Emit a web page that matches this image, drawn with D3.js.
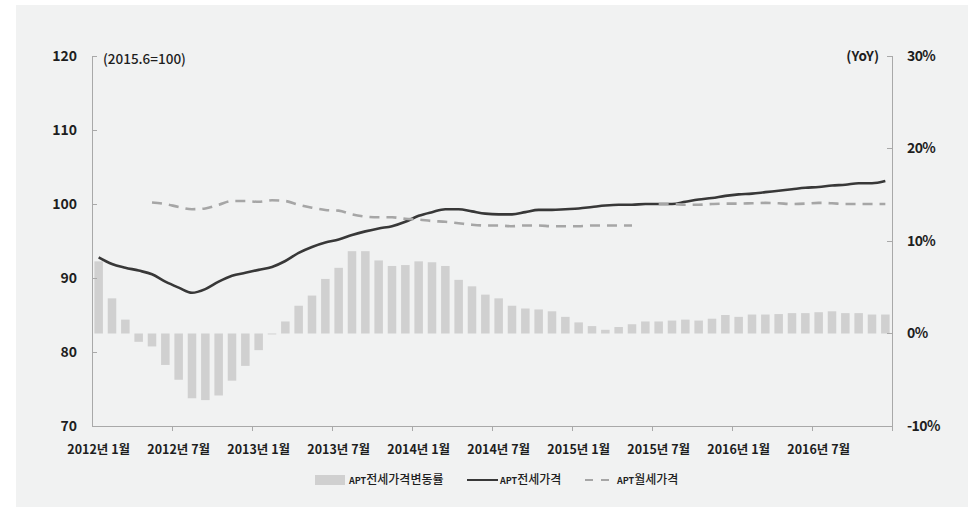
<!DOCTYPE html>
<html>
<head>
<meta charset="utf-8">
<script src="https://cdn.jsdelivr.net/npm/d3@7"></script>
<style>
  html, body { margin: 0; padding: 0; background: #ffffff; }
  svg { display: block; }
  text { font-family: "Noto Sans CJK KR", "Noto Sans", sans-serif; fill: #1e1e1e; }
</style>
</head>
<body>
<svg id="chart" width="968" height="516"></svg>
<script>
// ---------- data ----------
const categories = [
  "2012년 1월","2012년 2월","2012년 3월","2012년 4월","2012년 5월","2012년 6월",
  "2012년 7월","2012년 8월","2012년 9월","2012년 10월","2012년 11월","2012년 12월",
  "2013년 1월","2013년 2월","2013년 3월","2013년 4월","2013년 5월","2013년 6월",
  "2013년 7월","2013년 8월","2013년 9월","2013년 10월","2013년 11월","2013년 12월",
  "2014년 1월","2014년 2월","2014년 3월","2014년 4월","2014년 5월","2014년 6월",
  "2014년 7월","2014년 8월","2014년 9월","2014년 10월","2014년 11월","2014년 12월",
  "2015년 1월","2015년 2월","2015년 3월","2015년 4월","2015년 5월","2015년 6월",
  "2015년 7월","2015년 8월","2015년 9월","2015년 10월","2015년 11월","2015년 12월",
  "2016년 1월","2016년 2월","2016년 3월","2016년 4월","2016년 5월","2016년 6월",
  "2016년 7월","2016년 8월","2016년 9월","2016년 10월","2016년 11월","2016년 12월"
];
// APT전세가격변동률 (YoY, %)
const jeonseChange = [
  7.8, 3.8, 1.5, -0.9, -1.4, -3.4, -5.0, -7.0, -7.2, -6.7, -5.1, -3.5,
  -1.8, -0.1, 1.3, 3.0, 4.1, 5.9, 7.1, 8.9, 8.9, 7.9, 7.3, 7.4,
  7.8, 7.7, 7.3, 5.8, 5.1, 4.2, 3.8, 3.0, 2.7, 2.6, 2.4, 1.8,
  1.2, 0.8, 0.4, 0.7, 1.0, 1.3, 1.3, 1.4, 1.5, 1.4, 1.6, 2.0,
  1.8, 2.05, 2.05, 2.1, 2.2, 2.2, 2.3, 2.4, 2.2, 2.2, 2.05, 2.05
];
// APT전세가격 (2015.6=100)
const jeonseIndex = [
  92.8, 91.9, 91.4, 91.0, 90.5, 89.5, 88.7, 88.0, 88.5, 89.5, 90.3, 90.7,
  91.1, 91.5, 92.3, 93.4, 94.2, 94.8, 95.2, 95.8, 96.3, 96.7, 97.0, 97.6,
  98.4, 98.9, 99.3, 99.3, 99.0, 98.7, 98.6, 98.6, 98.9, 99.2, 99.2, 99.3,
  99.4, 99.6, 99.8, 99.9, 99.9, 100.0, 100.0, 100.0, 100.3, 100.6, 100.8, 101.1,
  101.3, 101.4, 101.6, 101.8, 102.0, 102.2, 102.3, 102.5, 102.6, 102.8, 102.8, 103.1
];
// APT월세가격 (2015.6=100)
const wolseIndex = [
  null, null, null, null, 100.2, 100.0, 99.6, 99.3, 99.4, 99.9, 100.4, 100.4,
  100.3, 100.5, 100.4, 99.9, 99.5, 99.2, 99.1, 98.6, 98.3, 98.2, 98.2, 98.0,
  97.9, 97.7, 97.6, 97.4, 97.2, 97.1, 97.1, 97.0, 97.1, 97.1, 97.0, 97.0,
  97.0, 97.1, 97.1, 97.1, 97.1, null, 100.0, 100.0, 99.9, 99.9, 100.0, 100.05,
  100.05, 100.1, 100.15, 100.1, 100.0, 100.05, 100.15, 100.1, 100.0, 100.0, 100.0, 100.0
];
const xTickLabels = ["2012년 1월","2012년 7월","2013년 1월","2013년 7월","2014년 1월",
                     "2014년 7월","2015년 1월","2015년 7월","2016년 1월","2016년 7월"];
const leftTicks = [70, 80, 90, 100, 110, 120];
const rightTicks = [-10, 0, 10, 20, 30];
const legendLabels = ["전세가격변동률", "전세가격", "월세가격"];

// ---------- layout ----------
const svg = d3.select("#chart");
const L = 92, R = 892, T = 56, B = 426;

svg.append("rect").attr("x", 16).attr("y", 5).attr("width", 952).attr("height", 502)
  .attr("fill", "#f1f2f2");

const x = d3.scaleBand().domain(categories).range([L, R]).paddingInner(0.36).paddingOuter(0.18);
const yL = d3.scaleLinear().domain([70, 120]).range([B, T]);
const yR = d3.scaleLinear().domain([-10, 30]).range([B, T]);
const cx = d => x(d) + x.bandwidth() / 2;

const axisColor = "#a9a9a9";

// bars
svg.append("g").selectAll("rect").data(categories).join("rect")
  .attr("x", d => x(d))
  .attr("width", x.bandwidth())
  .attr("y", (d, i) => yR(Math.max(0, jeonseChange[i])))
  .attr("height", (d, i) => Math.abs(yR(jeonseChange[i]) - yR(0)))
  .attr("fill", "#d0d0d0");

// lines
const solid = d3.line()
  .x((v, i) => cx(categories[i]))
  .y(v => yL(v))
  .curve(d3.curveMonotoneX);
svg.append("path").attr("d", solid(jeonseIndex))
  .attr("fill", "none").attr("stroke", "#383838").attr("stroke-width", 2.6)
  .attr("stroke-linejoin", "round");

const dashed = d3.line()
  .defined(v => v !== null)
  .x((v, i) => cx(categories[i]))
  .y(v => yL(v))
  .curve(d3.curveMonotoneX);
svg.append("path").attr("d", dashed(wolseIndex))
  .attr("fill", "none").attr("stroke", "#a6a6a6").attr("stroke-width", 2.6)
  .attr("stroke-dasharray", "10,7");

// axes lines
const gAx = svg.append("g").attr("stroke", axisColor).attr("stroke-width", 1).attr("shape-rendering", "crispEdges");
gAx.append("line").attr("x1", L).attr("x2", L).attr("y1", T).attr("y2", B);
gAx.append("line").attr("x1", R).attr("x2", R).attr("y1", T).attr("y2", B);
gAx.append("line").attr("x1", L).attr("x2", R).attr("y1", B).attr("y2", B);

// left ticks (inward)
leftTicks.forEach(t => {
  gAx.append("line").attr("x1", L).attr("x2", L + 5).attr("y1", yL(t)).attr("y2", yL(t));
});
svg.append("g").selectAll("text").data(leftTicks).join("text")
  .attr("x", 77).attr("y", d => yL(d)).attr("dy", "0.35em")
  .attr("text-anchor", "end").attr("font-size", 14).attr("font-weight", 700)
  .text(d => d);

// right ticks (inward)
rightTicks.forEach(t => {
  gAx.append("line").attr("x1", R - 5).attr("x2", R).attr("y1", yR(t)).attr("y2", yR(t));
});
svg.append("g").selectAll("text").data(rightTicks).join("text")
  .attr("x", 907).attr("y", d => yR(d)).attr("dy", "0.35em")
  .attr("text-anchor", "start").attr("font-size", 14).attr("font-weight", 700)
  .attr("letter-spacing", "-0.6")
  .text(d => d + "%");

// bottom ticks (between categories every 6 months)
for (let k = 1; k <= 10; k++) {
  const xp = x.range()[0] + k * 6 * (R - L) / categories.length;
  gAx.append("line").attr("x1", xp).attr("x2", xp).attr("y1", B).attr("y2", B + 5);
}
svg.append("g").selectAll("text").data(xTickLabels).join("text")
  .attr("x", d => cx(d)).attr("y", 450).attr("dy", "0.35em")
  .attr("text-anchor", "middle").attr("font-size", 12.5).attr("font-weight", 700)
  .text(d => d);

// axis titles
svg.append("text").attr("x", 103).attr("y", 59).attr("dy", "0.35em")
  .attr("font-size", 13.5).attr("font-weight", 500).text("(2015.6=100)");
svg.append("text").attr("x", 879).attr("y", 56).attr("dy", "0.35em")
  .attr("text-anchor", "end").attr("font-size", 13.5).attr("font-weight", 700).text("(YoY)");

// legend
const ly = 480;
const lg = svg.append("g");
lg.append("rect").attr("x", 315).attr("y", ly - 5).attr("width", 30).attr("height", 10).attr("fill", "#d0d0d0");
lg.append("line").attr("x1", 467).attr("x2", 498).attr("y1", ly).attr("y2", ly)
  .attr("stroke", "#383838").attr("stroke-width", 2);
lg.append("line").attr("x1", 585).attr("x2", 614).attr("y1", ly).attr("y2", ly)
  .attr("stroke", "#a6a6a6").attr("stroke-width", 2).attr("stroke-dasharray", "8,8");
const legX = [349, 500, 617];
legendLabels.forEach((lab, i) => {
  const t = lg.append("text").attr("x", legX[i]).attr("y", ly).attr("dy", "0.35em")
    .attr("font-size", 12).attr("font-weight", 500).attr("fill", "#333");
  t.append("tspan").attr("font-size", 9).attr("font-weight", 700).text("APT");
  t.append("tspan").text(lab);
});
</script>
</body>
</html>
